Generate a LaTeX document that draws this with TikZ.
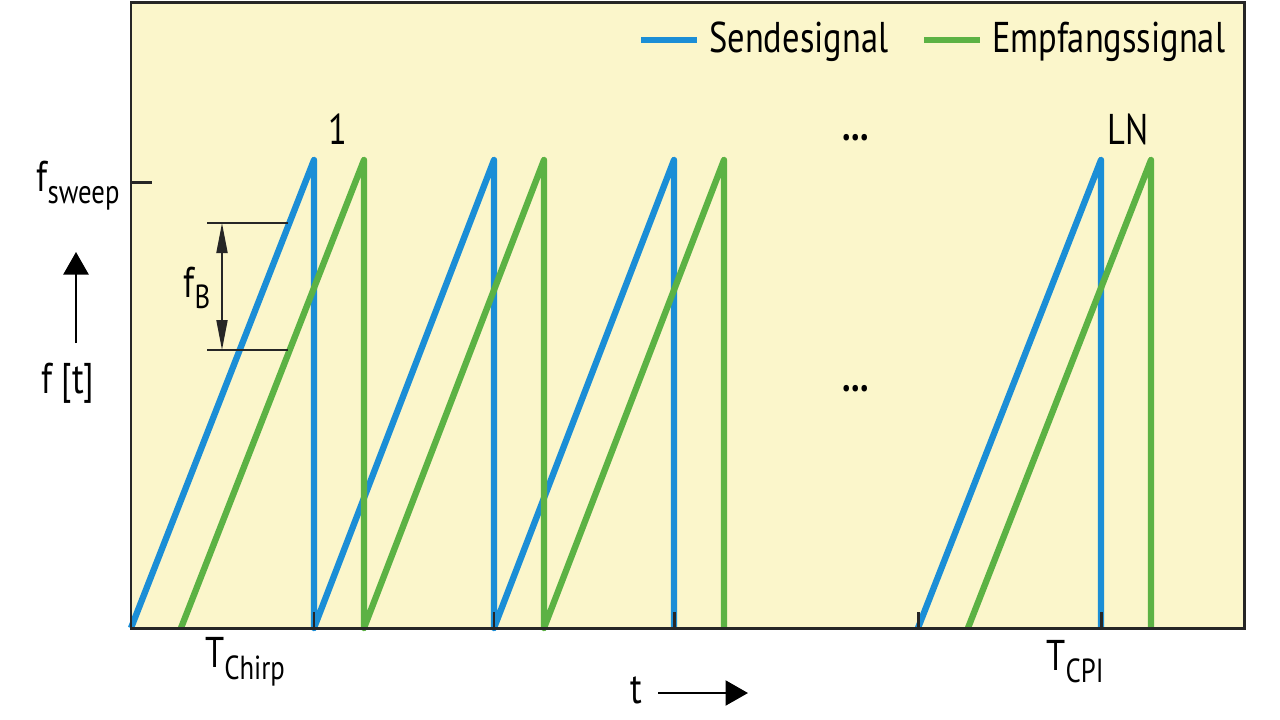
\documentclass[tikz,border=0pt]{standalone}
\usepackage{fontspec}
\setmainfont[FakeStretch=0.8]{PT Sans}
\usetikzlibrary{arrows.meta,positioning}
\definecolor{chartbg}{HTML}{FBF6CB}
\definecolor{sendblue}{HTML}{1B8ED6}
\definecolor{empfgreen}{HTML}{5CB244}
\newcommand{\lowidx}[1]{\raisebox{-0.55ex}{\fontsize{19}{21}\selectfont #1}}
\tikzset{>={Stealth[length=7pt]}}
\tikzset{
    txt/.style={inner sep=0pt,font=\fontsize{24.5}{28}\selectfont},
    sendline/.style={line width=3.6pt,sendblue,line join=round},
    empfline/.style={line width=3.6pt,empfgreen,line join=round},
    axisline/.style={line width=1.7pt,black!85},
    thin/.style={line width=1.1pt,black!85},
    bigarrow/.style={line width=1.3pt,-{Triangle[length=4.5mm,width=5mm]}},
}
\begin{document}
\begin{tikzpicture}[x=0.2mm,y=-0.2mm]
        \useasboundingbox (0,0) rectangle (1280,719);
        \fill[chartbg] (131,2) rectangle (1244,628);

        % chirps
        \draw[sendline] (131,628) -- (314,160) -- (314,628) -- (494,160) -- (494,628)
            -- (674,160) -- (674,628);
        \draw[empfline] (181,628) -- (364,160) -- (364,628) -- (544,160) -- (544,628)
            -- (724,160) -- (724,628);
        \draw[sendline] (918,628) -- (1101,160) -- (1101,628);
        \draw[empfline] (968,628) -- (1151,160) -- (1151,628);

        % axes
        \draw[axisline] (131,628) -- (131,2) -- (1244,2) -- (1244,628) -- cycle;
        \draw[axisline] (131,182) -- (152,182);
        \foreach \x in {314,494,674,918,1101}
            \draw[axisline] (\x,628) -- (\x,612);

        % f_B
        \coordinate (fbtopl) at (207,223);
        \coordinate (fbtopr) at (288,223);
        \coordinate (fbbotl) at (207,350);
        \coordinate (fbbotr) at (288,350);
        \coordinate (fbtop) at (222,223);
        \coordinate (fbbot) at (222,350);
        \draw[thin] (fbtopl) -- (fbtopr);
        \draw[thin] (fbbotl) -- (fbbotr);
        \draw[thin,{Triangle[length=6mm,width=2.2mm]}-{Triangle[length=6mm,width=2.2mm]}] (fbtop) -- (fbbot);
        \node[txt] (fb) at (197,288) {f\lowidx{B}};

        % labels
        \node[txt] (fsweep) at (78,186) {f\lowidx{sweep}};
        \coordinate (fup0) at (76,343);
        \coordinate (fup1) at (76,252);
        \draw[bigarrow] (fup0) -- (fup1);
        \node[txt] (ft) at (68,383) {f [t]};

        \node[txt] (one) at (338,129) {1};
        \node[txt] (ln) at (1128,129) {LN};
        \node[txt] (dotsa) at (856,138) {\textbf{...}};
        \node[txt] (dotsb) at (856,389) {\textbf{...}};

        \node[txt] (tchirp) at (245,662) {T\lowidx{Chirp}};
        \node[txt] (tcpi) at (1075,662) {T\lowidx{CPI}};
        \node[txt] (t) at (636,690) {t};
        \coordinate (tarr0) at (658,693);
        \coordinate (tarr1) at (748,693);
        \draw[bigarrow] (tarr0) -- (tarr1);

        % legend
        \coordinate (sendl0) at (641,40);
        \coordinate (sendl1) at (697,40);
        \coordinate (empfl0) at (924,40);
        \coordinate (empfl1) at (980,40);
        \draw[sendline] (sendl0) -- (sendl1);
        \draw[empfline] (empfl0) -- (empfl1);
        \node[txt,anchor=west] (send) at (709,42) {Sendesignal};
        \node[txt,anchor=west] (empf) at (992,42) {Empfangssignal};
\end{tikzpicture}
\end{document}
